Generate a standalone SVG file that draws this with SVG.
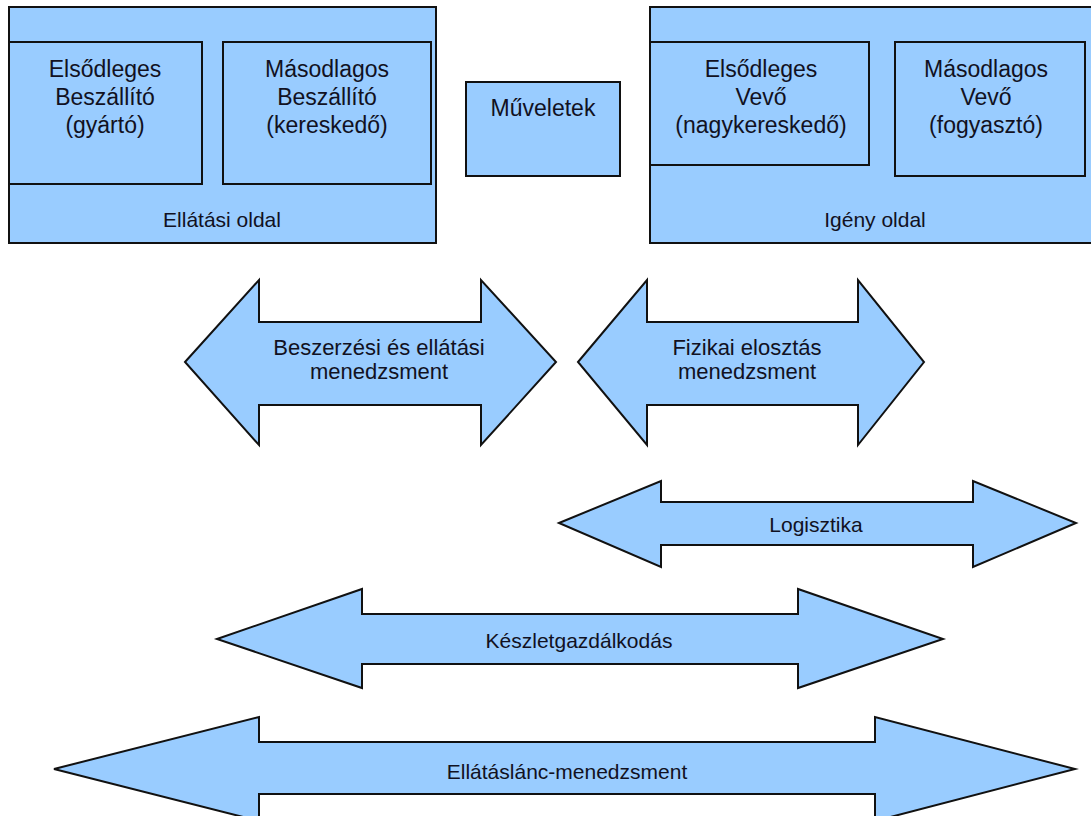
<svg xmlns="http://www.w3.org/2000/svg" width="1091" height="816" viewBox="0 0 1091 816">
<style>
.shape{fill:#99ccff;stroke:#111;stroke-width:2;stroke-linejoin:miter}
.t{font-family:"Liberation Sans",Arial,sans-serif;font-size:23px;fill:#111122;text-anchor:middle}
.b{font-family:"Liberation Sans",Arial,sans-serif;font-size:21px;fill:#111122;text-anchor:middle}
.m{font-family:"Liberation Sans",Arial,sans-serif;font-size:22px;fill:#111122;text-anchor:middle}
.a{font-family:"Liberation Sans",Arial,sans-serif;font-size:21px;fill:#111122;text-anchor:middle}
</style>
<rect width="1091" height="816" fill="#ffffff"/>
<g id="ellatasi-oldal">
<rect class="shape" x="9" y="7" width="427" height="236"/>
<text class="b" x="222" y="227">Ellátási oldal</text>
</g>
<g id="elsodleges-beszallito">
<rect class="shape" x="9" y="42" width="193" height="142"/>
<text class="t" x="105" y="77">Elsődleges</text>
<text class="t" x="105" y="105">Beszállító</text>
<text class="t" x="105" y="133">(gyártó)</text>
</g>
<g id="masodlagos-beszallito">
<rect class="shape" x="223" y="42" width="208" height="142"/>
<text class="t" x="327" y="77">Másodlagos</text>
<text class="t" x="327" y="105">Beszállító</text>
<text class="t" x="327" y="133">(kereskedő)</text>
</g>
<g id="muveletek">
<rect class="shape" x="466" y="82" width="154" height="94"/>
<text class="t" x="543" y="116">Műveletek</text>
</g>
<g id="igeny-oldal">
<rect class="shape" x="650" y="7" width="450" height="236"/>
<text class="b" x="875" y="227">Igény oldal</text>
</g>
<g id="elsodleges-vevo">
<rect class="shape" x="650" y="42" width="219" height="123"/>
<text class="t" x="761" y="77">Elsődleges</text>
<text class="t" x="761" y="105">Vevő</text>
<text class="t" x="761" y="133">(nagykereskedő)</text>
</g>
<g id="masodlagos-vevo">
<rect class="shape" x="895" y="42" width="190" height="134"/>
<text class="t" x="986" y="77">Másodlagos</text>
<text class="t" x="986" y="105">Vevő</text>
<text class="t" x="986" y="133">(fogyasztó)</text>
</g>
<g id="connectors">
<g id="beszerzesi">
<polygon class="shape" points="185,362 259,280 259,322 481,322 481,280 556,362 481,445 481,405 259,405 259,445"/>
<text class="m" x="379" y="355">Beszerzési és ellátási</text>
<text class="m" x="379" y="379">menedzsment</text>
</g>
<g id="fizikai">
<polygon class="shape" points="578,362 647,280 647,322 858,322 858,280 924,362 858,445 858,405 647,405 647,445"/>
<text class="m" x="747" y="355">Fizikai elosztás</text>
<text class="m" x="747" y="379">menedzsment</text>
</g>
<g id="logisztika">
<polygon class="shape" points="559,523 661,481 661,502 973,502 973,481 1076,523 973,567 973,545 661,545 661,567"/>
<text class="a" x="816" y="532">Logisztika</text>
</g>
<g id="keszlet">
<polygon class="shape" points="217,639 362,589 362,614 798,614 798,589 943,639 798,688 798,664 362,664 362,688"/>
<text class="a" x="579" y="648">Készletgazdálkodás</text>
</g>
<g id="ellataslanc">
<polygon class="shape" points="54,769 259,717 259,742 875,742 875,717 1075,769 875,821 875,794 259,794 259,821"/>
<text class="a" x="567" y="779">Ellátáslánc-menedzsment</text>
</g>
</g>
</svg>
